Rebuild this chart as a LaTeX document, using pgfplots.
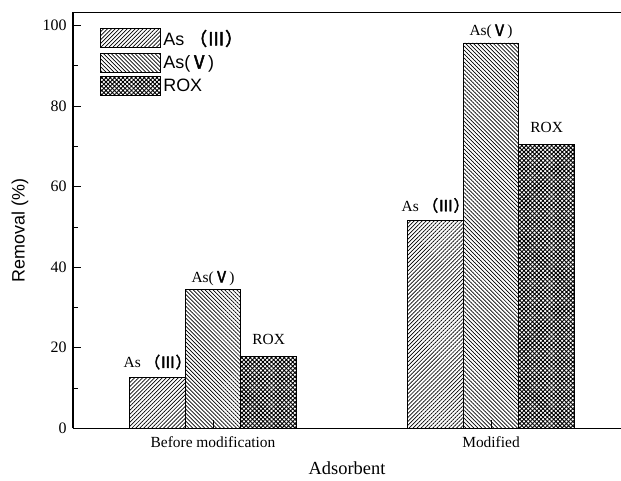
\documentclass[border=0pt]{standalone}
\usepackage{fontspec}
\setmainfont{Liberation Serif}
\newfontfamily\arial{Liberation Sans}
\newfontfamily\cjk[FakeBold=2.5]{Noto Sans CJK SC}
\usepackage{pgfplots}
\pgfplotsset{compat=1.18}
\usetikzlibrary{patterns.meta}

\begin{document}
\begin{tikzpicture}
\begin{axis}[
  scale only axis, width=548bp, height=416bp,
  xmin=-0.5036, xmax=1.4676, ymin=0, ymax=103.3,
  ybar=0pt, bar width=0.2,
  axis x line*=bottom, axis y line*=left,
  axis line style={-, line width=1.2bp},
  tick align=inside,
  major tick length=8bp, minor tick length=5bp,
  tick style={black, line width=0.8bp},
  xtick={0,1}, xticklabels={Before modification, Modified},
  x tick label style={font=\fontsize{15.5}{17}\selectfont, yshift=-5bp},
  ytick={0,20,...,100}, minor y tick num=1,
  y tick label style={font=\fontsize{16}{18}\selectfont, xshift=-3bp},
  /pgf/number format/assume math mode=true,
  xlabel={Adsorbent},
  xlabel style={font=\fontsize{18.5}{20}\selectfont, at={(axis description cs:0.5,0)}, anchor=center, yshift=-40bp},
  ylabel={\arial Removal (\%)},
  ylabel style={font=\fontsize{18}{20}\selectfont, at={(axis description cs:-0.0967,0.475)}, anchor=center},
  every node near coord/.append style={font=\fontsize{15.5}{17}\selectfont, black},
  legend image code/.code={\draw[#1, line width=0.8bp] (0bp,-9.5bp) rectangle (60bp,9.5bp);},
  legend style={at={(axis description cs:0.049,0.964)}, anchor=north west, draw=none, fill=none,
    font=\arial\fontsize{18}{20}\selectfont, row sep=3.5bp, inner sep=0pt, nodes={inner sep=2.5bp}},
  legend cell align=left,
]
\addplot[draw=black, line width=0.8bp, pattern={Lines[angle=45, distance=2.8bp, line width=0.7bp]}, pattern color=black,
  nodes near coords={As {\cjk （Ⅲ）}}, every node near coord/.append style={yshift=4bp}]
  coordinates {(0,12.7) (1,51.6)};
\addlegendentry{As {\cjk （Ⅲ）}}
\addplot[draw=black, line width=0.8bp, pattern={Lines[angle=-45, distance=2.8bp, line width=0.7bp]}, pattern color=black,
  nodes near coords={As({\cjk Ⅴ})}, every node near coord/.append style={yshift=0bp}]
  coordinates {(0,34.5) (1,95.7)};
\addlegendentry{As({\cjk Ⅴ})}
\addplot[draw=black, line width=0.8bp, pattern={Hatch[angle=45, distance=3bp, line width=0.9bp]}, pattern color=black,
  nodes near coords={ROX}, every node near coord/.append style={yshift=8bp}]
  coordinates {(0,17.9) (1,70.4)};
\addlegendentry{ROX}
\draw[line width=1.2bp] (rel axis cs:0,1) -- (rel axis cs:1,1);
\coordinate (SW) at (rel axis cs:0,0);
\coordinate (NE) at (rel axis cs:1,1);
\end{axis}
\pgfresetboundingbox
\path ([xshift=-73bp,yshift=-52.5bp]SW) rectangle ([yshift=12.3bp]NE);
\end{tikzpicture}
\end{document}
